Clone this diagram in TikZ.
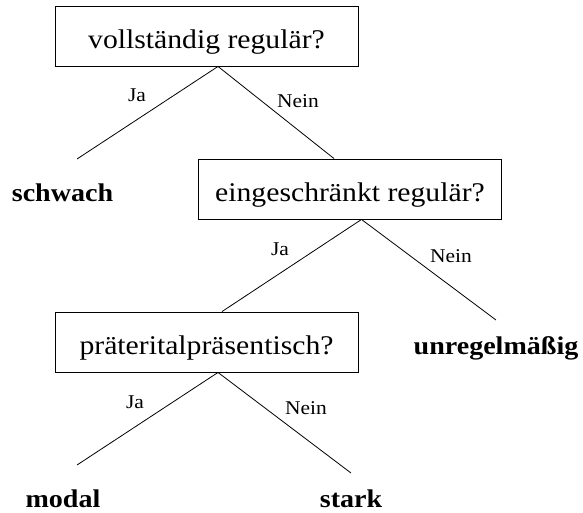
\documentclass[tikz,border=0pt]{standalone}
\usepackage{fontspec}
\setmainfont[FakeStretch=1.1]{Liberation Serif}
\begin{document}
\begin{tikzpicture}[x=1pt,y=-1pt,
  qbox/.style={draw, line width=0.9pt, minimum width=303pt, minimum height=60pt,
    inner sep=0pt, font=\fontsize{27}{32}\selectfont, text height=27pt, text depth=2.5pt},
  leaf/.style={font=\fontsize{25.5}{30}\selectfont\bfseries, inner sep=0pt, anchor=base},
  lab/.style={font=\fontsize{19.5}{23}\selectfont, inner sep=0pt},
  edge/.style={line width=0.8pt}]
\useasboundingbox (0,0) rectangle (583,512);

\node[qbox] (b1) at (206.5,36) {vollständig regulär?};
\node[qbox] (b2) at (350,189) {eingeschränkt regulär?};
\node[qbox] (b3) at (206.5,342) {präteritalpräsentisch?};

\node[leaf] (schwach) at (62.5,201) {schwach};
\node[leaf] (unreg) at (496,354) {unregelmäßig};
\node[leaf] (modal) at (63,507) {modal};
\node[leaf] (stark) at (351,507) {stark};

\coordinate (a1) at ([xshift=11.5pt]b1.south);
\coordinate (a2) at ([xshift=11.5pt]b2.south);
\coordinate (a3) at ([xshift=11.5pt]b3.south);
\coordinate (s1) at (77,159);
\coordinate (t2) at ([xshift=-16pt]b2.north);
\coordinate (t3) at ([xshift=15.5pt]b3.north);
\coordinate (u1) at (496,320);
\coordinate (m1) at (77,465);
\coordinate (k1) at (351,473);

\draw[edge] (a1) -- (s1);
\draw[edge] (a1) -- (t2);
\draw[edge] (a2) -- (t3);
\draw[edge] (a2) -- (u1);
\draw[edge] (a3) -- (m1);
\draw[edge] (a3) -- (k1);

\node[lab] (ja1) at (137,95) {Ja};
\node[lab] (nein1) at (298,101) {Nein};
\node[lab] (ja2) at (280,249) {Ja};
\node[lab] (nein2) at (451,256) {Nein};
\node[lab] (ja3) at (135,402) {Ja};
\node[lab] (nein3) at (306,408) {Nein};
\end{tikzpicture}
\end{document}
